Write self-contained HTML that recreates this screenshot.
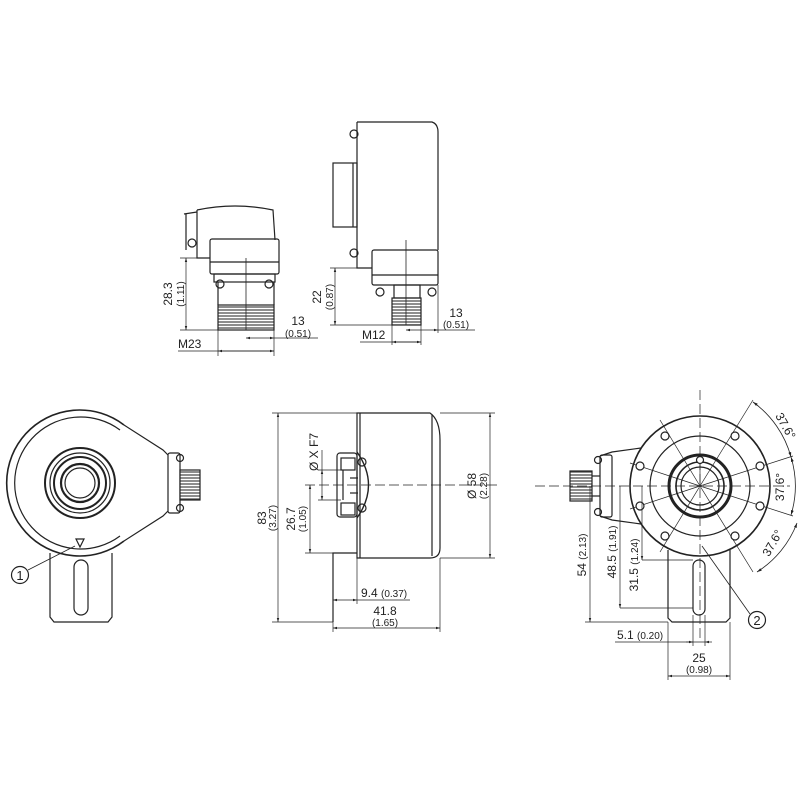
<!DOCTYPE html>
<html><head><meta charset="utf-8"><style>
html,body{margin:0;padding:0;background:#fff}
svg{display:block}
text{font-family:"Liberation Sans",sans-serif;fill:#222}
</style></head><body>
<svg width="800" height="800" viewBox="0 0 800 800" xmlns="http://www.w3.org/2000/svg">
<defs>
<marker id="a" viewBox="0 0 10 10" refX="10" refY="5" markerWidth="6" markerHeight="6" orient="auto-start-reverse"><path d="M0,2 L10,5 L0,8z" fill="#222"/></marker>
<pattern id="thr" width="3" height="3" patternUnits="userSpaceOnUse"><rect width="3" height="3" fill="#fff"/><line x1="0" y1="1" x2="3" y2="1" stroke="#444" stroke-width="1.2"/></pattern>
</defs>
<g fill="none" stroke="#222" stroke-width="1.2">
<!-- top-left view -->
<path d="M197,210 Q235,202 273,210 L275,240"/>
<path d="M197,210 L197,258 L210,258"/>
<path d="M184,214 L197,212 M186,214 L186,250"/>
<circle cx="192" cy="243" r="4"/>
<rect x="210" y="239" width="69" height="35" rx="2"/>
<line x1="210" y1="262" x2="279" y2="262"/>
<rect x="214" y="274" width="61" height="8"/>
<circle cx="220" cy="284" r="4"/><circle cx="269" cy="284" r="4"/>
<line x1="218" y1="282" x2="218" y2="305"/><line x1="274" y1="282" x2="274" y2="305"/>
<rect x="218" y="305" width="56" height="25" fill="url(#thr)"/>
<line x1="246" y1="258" x2="246" y2="330" stroke-width="0.8"/>
<!-- top-right view -->
<path d="M357,122 L432,122 Q438,124 438,132 L438,250"/>
<path d="M357,122 L357,268 L372,268"/>
<rect x="333" y="163" width="24" height="64"/>
<line x1="353" y1="163" x2="353" y2="227"/>
<circle cx="354" cy="134" r="4"/><circle cx="354" cy="253" r="4"/>
<rect x="372" y="250" width="66" height="35" rx="2"/>
<line x1="372" y1="275" x2="438" y2="275"/>
<circle cx="380" cy="292" r="4"/><circle cx="432" cy="292" r="4"/>
<rect x="394" y="285" width="26" height="13"/>
<rect x="392" y="298" width="29" height="27" fill="url(#thr)"/>
<line x1="406" y1="240" x2="406" y2="325" stroke-width="0.8"/>
<!-- bottom-left view -->
<path d="M124,425 A73,73 0 1 0 124,541" stroke-width="1.6"/>
<path d="M120,430 A66,66 0 1 0 120,536"/>
<path d="M124,425 L163,450 L168,455 M124,541 L163,516 L168,511"/>
<rect x="168" y="453" width="12" height="60" rx="2"/>
<circle cx="180" cy="458" r="3.5"/><circle cx="180" cy="508" r="3.5"/>
<rect x="180" y="470" width="20" height="30" fill="url(#thr)"/>
<circle cx="80" cy="483" r="35" stroke-width="2"/>
<circle cx="80" cy="483" r="30"/>
<circle cx="80" cy="483" r="26" stroke-width="2"/>
<circle cx="80" cy="483" r="19" stroke-width="2.2"/>
<circle cx="80" cy="483" r="15"/>
<path d="M50,553 L50,617 L54,622 L108,622 L112,617 L112,553"/>
<rect x="74" y="560" width="14" height="55" rx="7"/>
<path d="M76,539 L80,547 L84,539z"/>
<line x1="75" y1="546" x2="28" y2="570" stroke-width="0.8"/>
<circle cx="20" cy="575" r="8.5"/>
<!-- middle view -->
<path d="M357,413 L430,413 Q440,420 440,440 L440,548 Q440,558 430,558 L357,558 Z"/>
<line x1="432" y1="415" x2="432" y2="556"/>
<line x1="360" y1="413" x2="360" y2="558"/>
<path d="M357,553 L333,553 L333,622"/>
<path d="M357,452 Q380,485 357,518" stroke-width="1.4"/>
<rect x="337" y="453" width="20" height="64" rx="3"/>
<rect x="341" y="458" width="14" height="12"/>
<rect x="341" y="503" width="14" height="12"/>
<line x1="343" y1="470" x2="343" y2="500"/>
<line x1="350" y1="478" x2="358" y2="478"/>
<line x1="350" y1="493" x2="358" y2="493"/>
<circle cx="362" cy="462" r="4"/><circle cx="362" cy="508" r="4"/>
<line x1="305" y1="485" x2="500" y2="485" stroke-width="0.8" stroke-dasharray="10,4"/>
<!-- right view -->
<circle cx="700" cy="486" r="70" stroke-width="1.6"/>
<circle cx="700" cy="486" r="50"/>
<circle cx="700" cy="486" r="31" stroke-width="3"/>
<circle cx="700" cy="486" r="24" stroke-width="1.6"/>
<circle cx="700" cy="486" r="19"/>
<path d="M641,448 L612,452 L600,456 M641,524 L612,520 L600,516"/>
<rect x="600" y="455" width="12" height="62" rx="2"/>
<circle cx="598" cy="460" r="3.5"/><circle cx="598" cy="512" r="3.5"/>
<rect x="570" y="471" width="22" height="30" fill="url(#thr)"/>
<line x1="592" y1="476" x2="600" y2="476"/><line x1="592" y1="496" x2="600" y2="496"/>
<path d="M668,550 L668,618 L672,622 L726,622 L730,618 L730,550"/>
<rect x="693" y="560" width="12" height="55" rx="6"/>
<g stroke-width="0.7">
<line x1="700" y1="390" x2="700" y2="640" stroke-dasharray="10,4"/>
<line x1="535" y1="486" x2="790" y2="486" stroke-dasharray="10,4"/>
<line x1="700" y1="486" x2="753" y2="400"/>
<line x1="700" y1="486" x2="793" y2="456"/>
<line x1="700" y1="486" x2="793" y2="516"/>
<line x1="700" y1="486" x2="753" y2="572"/>
<line x1="700" y1="486" x2="660" y2="420"/>
<line x1="700" y1="486" x2="630" y2="463"/>
<line x1="700" y1="486" x2="630" y2="509"/>
<line x1="700" y1="486" x2="660" y2="552"/>
<line x1="700" y1="486" x2="700" y2="460"/>
</g>
<path d="M753,402 A100,100 0 0 1 791,457" marker-start="url(#a)" marker-end="url(#a)" stroke-width="0.8"/>
<path d="M791,457 A100,100 0 0 1 791,515" marker-start="url(#a)" marker-end="url(#a)" stroke-width="0.8"/>
<path d="M797,523 A100,100 0 0 1 757,572" marker-start="url(#a)" marker-end="url(#a)" stroke-width="0.8"/>
<g fill="#fff">
<circle cx="665" cy="436" r="4"/><circle cx="735" cy="436" r="4"/>
<circle cx="665" cy="536" r="4"/><circle cx="735" cy="536" r="4"/>
<circle cx="640" cy="466" r="4"/><circle cx="760" cy="466" r="4"/>
<circle cx="640" cy="506" r="4"/><circle cx="760" cy="506" r="4"/>
<circle cx="700" cy="460" r="3.5"/>
</g>
<line x1="702" y1="546" x2="750" y2="614" stroke-width="0.8"/>
<circle cx="757" cy="620" r="8.5"/>
</g>
<!-- dimension lines -->
<g fill="none" stroke="#222" stroke-width="0.7">
<line x1="180" y1="258" x2="197" y2="258"/><line x1="180" y1="330" x2="218" y2="330"/>
<line x1="186" y1="258" x2="186" y2="330" marker-start="url(#a)" marker-end="url(#a)"/>
<line x1="218" y1="330" x2="218" y2="356"/><line x1="274" y1="305" x2="274" y2="356"/>
<line x1="178" y1="351" x2="274" y2="351"/>
<line x1="218" y1="351" x2="274" y2="351" marker-start="url(#a)" marker-end="url(#a)"/>
<line x1="246" y1="338" x2="274" y2="338" marker-start="url(#a)" marker-end="url(#a)"/>
<line x1="274" y1="338" x2="318" y2="338"/>
<line x1="330" y1="268" x2="357" y2="268"/><line x1="330" y1="325" x2="392" y2="325"/>
<line x1="335" y1="268" x2="335" y2="325" marker-start="url(#a)" marker-end="url(#a)"/>
<line x1="392" y1="325" x2="392" y2="345"/><line x1="421" y1="325" x2="421" y2="345"/>
<line x1="360" y1="342" x2="421" y2="342"/>
<line x1="392" y1="342" x2="421" y2="342" marker-start="url(#a)" marker-end="url(#a)"/>
<line x1="438" y1="285" x2="438" y2="333"/>
<line x1="406" y1="330" x2="438" y2="330" marker-start="url(#a)" marker-end="url(#a)"/>
<line x1="438" y1="330" x2="475" y2="330"/>
<line x1="272" y1="413" x2="357" y2="413"/><line x1="272" y1="622" x2="333" y2="622"/>
<line x1="278" y1="413" x2="278" y2="622" marker-start="url(#a)" marker-end="url(#a)"/>
<line x1="305" y1="553" x2="333" y2="553"/>
<line x1="310" y1="485" x2="310" y2="553" marker-start="url(#a)" marker-end="url(#a)"/>
<line x1="318" y1="470" x2="341" y2="470"/><line x1="318" y1="500" x2="341" y2="500"/>
<line x1="322" y1="470" x2="322" y2="500" marker-start="url(#a)" marker-end="url(#a)"/>
<line x1="322" y1="450" x2="322" y2="470"/>
<line x1="440" y1="413" x2="495" y2="413"/><line x1="440" y1="558" x2="495" y2="558"/>
<line x1="490" y1="413" x2="490" y2="558" marker-start="url(#a)" marker-end="url(#a)"/>
<line x1="357" y1="558" x2="357" y2="604"/>
<line x1="333" y1="600" x2="357" y2="600" marker-start="url(#a)" marker-end="url(#a)"/>
<line x1="357" y1="600" x2="410" y2="600"/>
<line x1="333" y1="622" x2="333" y2="632"/><line x1="440" y1="558" x2="440" y2="632"/>
<line x1="333" y1="628" x2="440" y2="628" marker-start="url(#a)" marker-end="url(#a)"/>
<line x1="585" y1="622" x2="668" y2="622"/>
<line x1="590" y1="486" x2="590" y2="622" marker-end="url(#a)"/>
<line x1="620" y1="608" x2="693" y2="608"/>
<line x1="620" y1="486" x2="620" y2="608" marker-end="url(#a)"/>
<line x1="642" y1="560" x2="693" y2="560"/>
<line x1="642" y1="486" x2="642" y2="560" marker-end="url(#a)"/>
<line x1="693" y1="615" x2="693" y2="646"/><line x1="705" y1="615" x2="705" y2="646"/>
<line x1="615" y1="642" x2="705" y2="642"/>
<line x1="686" y1="642" x2="693" y2="642" marker-end="url(#a)"/>
<line x1="712" y1="642" x2="705" y2="642" marker-end="url(#a)"/>
<line x1="668" y1="622" x2="668" y2="680"/><line x1="730" y1="622" x2="730" y2="680"/>
<line x1="668" y1="676" x2="730" y2="676" marker-start="url(#a)" marker-end="url(#a)"/>
</g>
<g font-size="12">
<text transform="translate(172,294) rotate(-90)" text-anchor="middle">28.3</text>
<text transform="translate(184,294) rotate(-90)" text-anchor="middle" font-size="10">(1.11)</text>
<text x="178" y="348">M23</text>
<text x="298" y="325" text-anchor="middle">13</text>
<text x="298" y="337" text-anchor="middle" font-size="10">(0.51)</text>
<text transform="translate(321,297) rotate(-90)" text-anchor="middle">22</text>
<text transform="translate(333,297) rotate(-90)" text-anchor="middle" font-size="10">(0.87)</text>
<text x="362" y="339">M12</text>
<text x="456" y="317" text-anchor="middle">13</text>
<text x="456" y="328" text-anchor="middle" font-size="10">(0.51)</text>
<text transform="translate(266,518) rotate(-90)" text-anchor="middle">83</text>
<text transform="translate(276,518) rotate(-90)" text-anchor="middle" font-size="10">(3.27)</text>
<text transform="translate(295,519) rotate(-90)" text-anchor="middle">26.7</text>
<text transform="translate(306,519) rotate(-90)" text-anchor="middle" font-size="10">(1.05)</text>
<text transform="translate(318,452) rotate(-90)" text-anchor="middle">Ø X F7</text>
<text transform="translate(476,486) rotate(-90)" text-anchor="middle">Ø 58</text>
<text transform="translate(487,486) rotate(-90)" text-anchor="middle" font-size="10">(2.28)</text>
<text x="361" y="597">9.4 <tspan font-size="10">(0.37)</tspan></text>
<text x="385" y="615" text-anchor="middle">41.8</text>
<text x="385" y="626" text-anchor="middle" font-size="10">(1.65)</text>
<text transform="translate(586,555) rotate(-90)" text-anchor="middle">54 <tspan font-size="10">(2.13)</tspan></text>
<text transform="translate(616,552) rotate(-90)" text-anchor="middle">48.5 <tspan font-size="10">(1.91)</tspan></text>
<text transform="translate(638,565) rotate(-90)" text-anchor="middle">31.5 <tspan font-size="10">(1.24)</tspan></text>
<text x="617" y="639">5.1 <tspan font-size="10">(0.20)</tspan></text>
<text x="699" y="662" text-anchor="middle">25</text>
<text x="699" y="673" text-anchor="middle" font-size="10">(0.98)</text>
<text transform="translate(782,428) rotate(60)" text-anchor="middle">37.6°</text>
<text transform="translate(784,487) rotate(-90)" text-anchor="middle">37.6°</text>
<text transform="translate(776,545) rotate(-60)" text-anchor="middle">37.6°</text>
<text x="20" y="580" text-anchor="middle" font-size="13">1</text>
<text x="757" y="625" text-anchor="middle" font-size="13">2</text>
</g>
</svg>
</body></html>
